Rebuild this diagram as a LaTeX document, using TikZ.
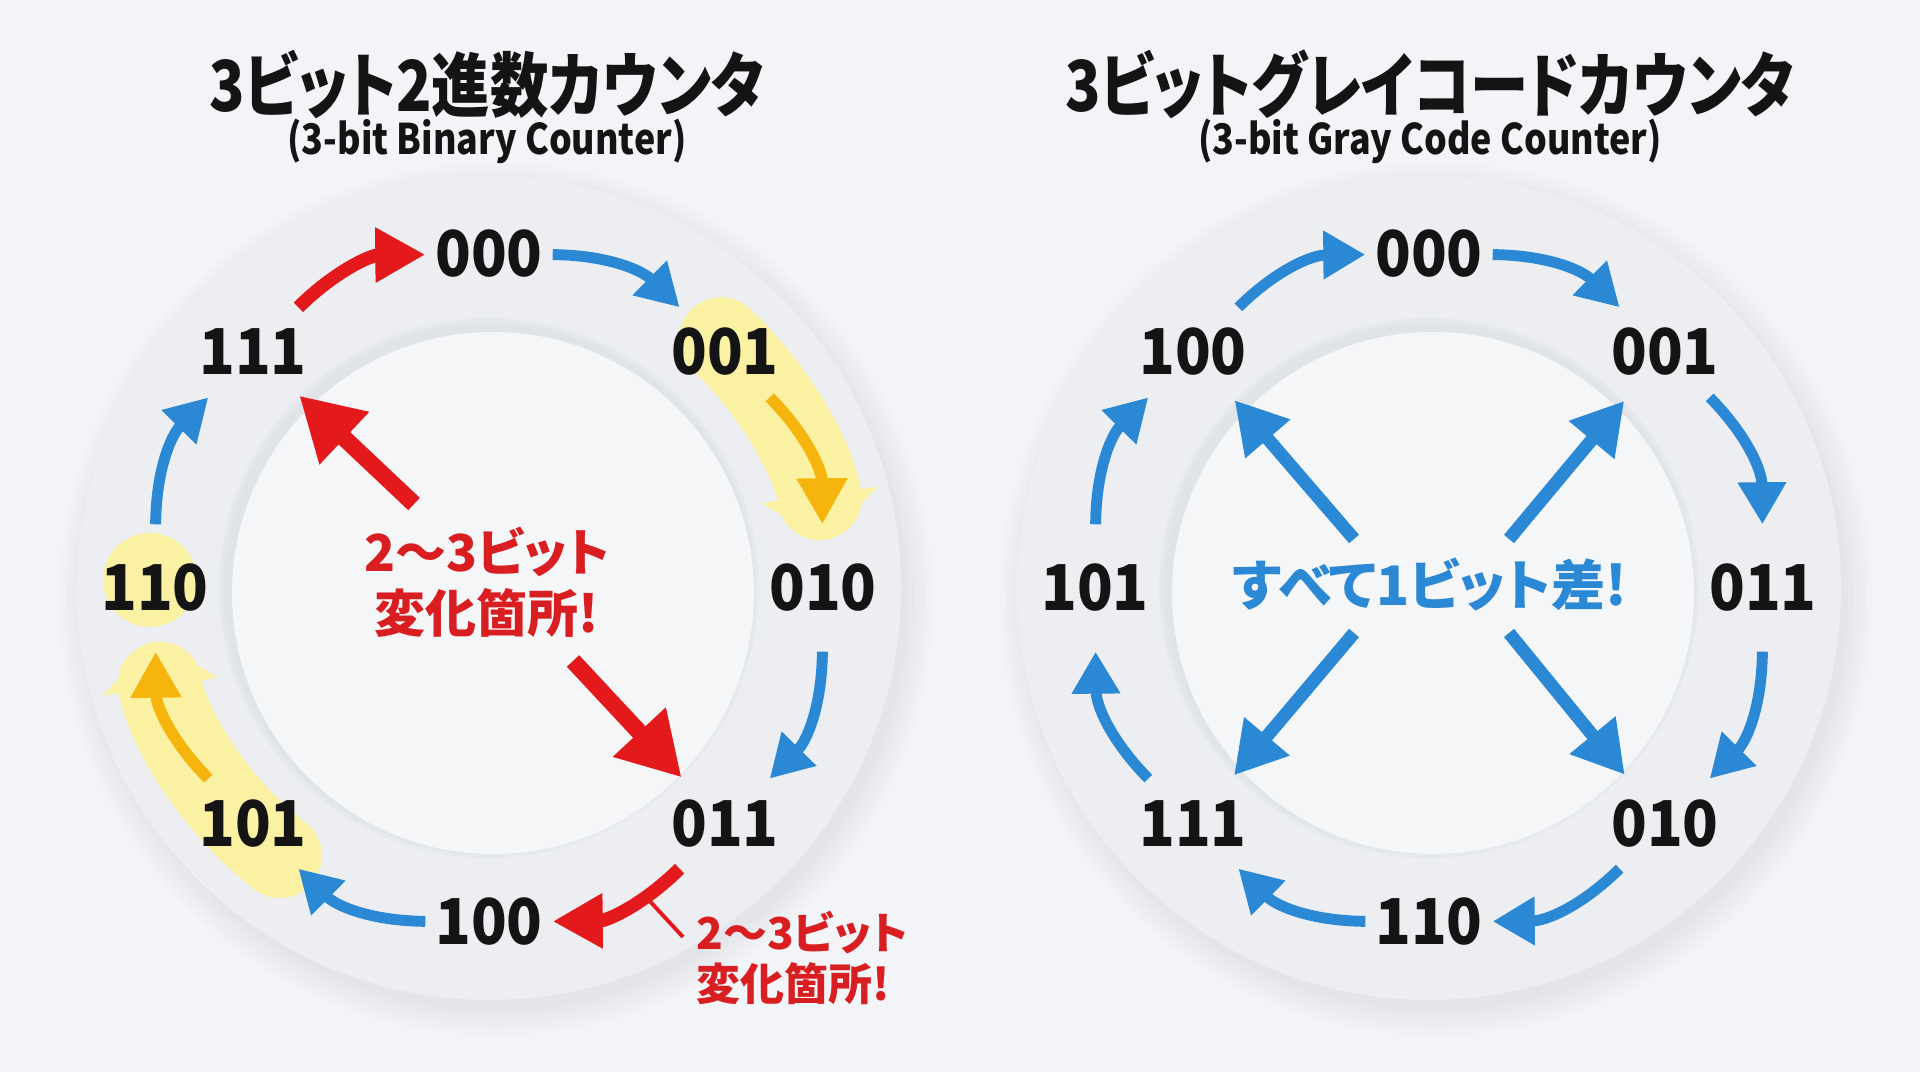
\documentclass[tikz,border=0pt]{standalone}
\usepackage{fontspec}
\setmainfont{Noto Sans CJK JP}[RawFeature=+palt]
\newfontfamily\ttlfont{Noto Sans CJK JP}[RawFeature=+palt, FakeStretch=0.83]
\newfontfamily\subfont{Noto Sans CJK JP}[RawFeature=+palt, FakeStretch=0.85]
\newfontfamily\digfont{Noto Sans CJK JP}[FakeStretch=0.93]
\usetikzlibrary{arrows.meta,calc}

\definecolor{bgc}{HTML}{F3F4F7}
\definecolor{ringc}{HTML}{ECEEF2}
\definecolor{rimc}{HTML}{DDE0E6}
\definecolor{diskc}{HTML}{F5F6F8}
\definecolor{blu}{HTML}{2B88D4}
\definecolor{rd}{HTML}{E3191B}
\definecolor{rdtxt}{HTML}{D91E22}
\definecolor{org}{HTML}{F5B50C}
\definecolor{hl}{HTML}{FBF1A2}
\definecolor{ink}{HTML}{141414}

\tikzset{
  lbl/.style={circle, minimum size=1.26cm, inner sep=0pt, text=ink,
    font=\digfont\fontsize{18}{18}\selectfont\bfseries},
  ttl/.style={text=ink, font=\ttlfont\fontsize{20}{24}\selectfont\bfseries},
  sub/.style={text=ink, font=\subfont\fontsize{12}{14}\selectfont\bfseries},
  blarc/.style={draw=blu, line width=3.1pt, -{Triangle[length=4.2mm,width=4.6mm]}},
  rdarc/.style={draw=rd, line width=3.8pt, -{Triangle[length=5mm,width=5.2mm]}},
  orarc/.style={draw=org, line width=3.3pt, -{Triangle[length=4.6mm,width=4.8mm]}},
  rdbig/.style={draw=rd, line width=4.8pt, -{Triangle[length=6.2mm,width=6.8mm]}},
  blbig/.style={draw=blu, line width=3.7pt, -{Triangle[length=5.1mm,width=5.6mm]}},
  band/.style={draw=hl, line width=0.84cm, line cap=round,
    -{Triangle[length=4.6mm,width=11.5mm]}},
  chg/.style={text=rdtxt, align=center, font=\fontsize{14.5}{17.5}\selectfont\bfseries},
  callout/.style={text=rdtxt, align=left, font=\fontsize{12.5}{14.5}\selectfont\bfseries},
  leader/.style={draw=rd, line width=1.1pt},
}

\begin{document}
\begin{tikzpicture}
\useasboundingbox (0,0) rectangle (19.2,10.72);
\fill[bgc] (0,0) rectangle (19.2,10.72);

\coordinate (cL) at (4.89,4.84);
\coordinate (cR) at (14.29,4.84);

% rings
\foreach \c in {cL,cR}{
  \foreach \r in {4.36,4.30,...,4.12}
    \fill[black,opacity=0.012] ($(\c)+(0.07,-0.11)$) circle (\r);
  \fill[ringc] (\c) circle (4.12);
  \foreach \r in {2.70,2.67,2.64}
    \fill[rimc,opacity=0.35] (\c) circle (\r);
  \fill[diskc] ($(\c)+(0.04,-0.05)$) circle (2.61);
}

% highlights
\draw[band] ($(cL)+(47:3.40)$) arc[start angle=47, end angle=8, radius=3.40];
\draw[band] ($(cL)+(232:3.40)$) arc[start angle=232, end angle=189, radius=3.40];
\fill[hl] (1.50,4.92) circle (0.47);

% titles
\node[ttl] (tL) at (4.87,9.88) {3ビット2進数カウンタ};
\node[sub] (sL) at (4.87,9.31) {(3-bit Binary Counter)};
\node[ttl] (tR) at (14.30,9.88) {3ビットグレイコードカウンタ};
\node[sub] (sR) at (14.30,9.31) {(3-bit Gray Code Counter)};

\begin{scope}[every node/.style={lbl}]
  \node (b000) at (4.89,8.18) {000};
  \node (b001) at (7.25,7.20) {001};
  \node (b010) at (8.23,4.84) {010};
  \node (b011) at (7.25,2.48) {011};
  \node (b100) at (4.89,1.50) {100};
  \node (b101) at (2.53,2.48) {101};
  \node (b110) at (1.55,4.84) {110};
  \node (b111) at (2.53,7.20) {111};

  \node (g000) at (14.29,8.18) {000};
  \node (g001) at (16.65,7.20) {001};
  \node (g011) at (17.63,4.84) {011};
  \node (g010) at (16.65,2.48) {010};
  \node (g110) at (14.29,1.50) {110};
  \node (g111) at (11.93,2.48) {111};
  \node (g101) at (10.95,4.84) {101};
  \node (g100) at (11.93,7.20) {100};
\end{scope}

% binary counter
\path (b000) edge[blarc, bend left=22] (b001);
\path (b001) edge[orarc, bend left=22] (b010);
\path (b010) edge[blarc, bend left=22] (b011);
\path (b011) edge[rdarc, bend left=22] (b100);
\path (b100) edge[blarc, bend left=22] (b101);
\path (b101) edge[orarc, bend left=22] (b110);
\path (b110) edge[blarc, bend left=22] (b111);
\path (b111) edge[rdarc, bend left=22] (b000);

\node[chg] (chgL) at (4.87,4.90) {2〜3ビット\\変化箇所!};
\coordinate (sL1) at (4.14,5.68);
\coordinate (sL2) at (5.73,4.11);
\path (sL1) edge[rdbig] (b111);
\path (sL2) edge[rdbig] (b011);

\node[callout, anchor=west] (chgL2) at (6.84,1.14) {2〜3ビット\\変化箇所!};
\coordinate (ldA) at (6.45,1.76);
\coordinate (ldB) at (6.83,1.35);
\draw[leader] (ldA) -- (ldB);

% gray code counter
\path (g000) edge[blarc, bend left=22] (g001);
\path (g001) edge[blarc, bend left=22] (g011);
\path (g011) edge[blarc, bend left=22] (g010);
\path (g010) edge[blarc, bend left=22] (g110);
\path (g110) edge[blarc, bend left=22] (g111);
\path (g111) edge[blarc, bend left=22] (g101);
\path (g101) edge[blarc, bend left=22] (g100);
\path (g100) edge[blarc, bend left=22] (g000);

\node[chg, text=blu, font=\fontsize{15.5}{18}\selectfont\bfseries] (allR) at (14.30,4.87) {すべて1ビット差!};
\coordinate (sR1) at (13.54,5.33);
\coordinate (sR2) at (15.09,5.33);
\coordinate (sR3) at (13.54,4.39);
\coordinate (sR4) at (15.09,4.39);
\path (sR1) edge[blbig] (g100);
\path (sR2) edge[blbig] (g001);
\path (sR3) edge[blbig] (g111);
\path (sR4) edge[blbig] (g010);

\end{tikzpicture}
\end{document}
